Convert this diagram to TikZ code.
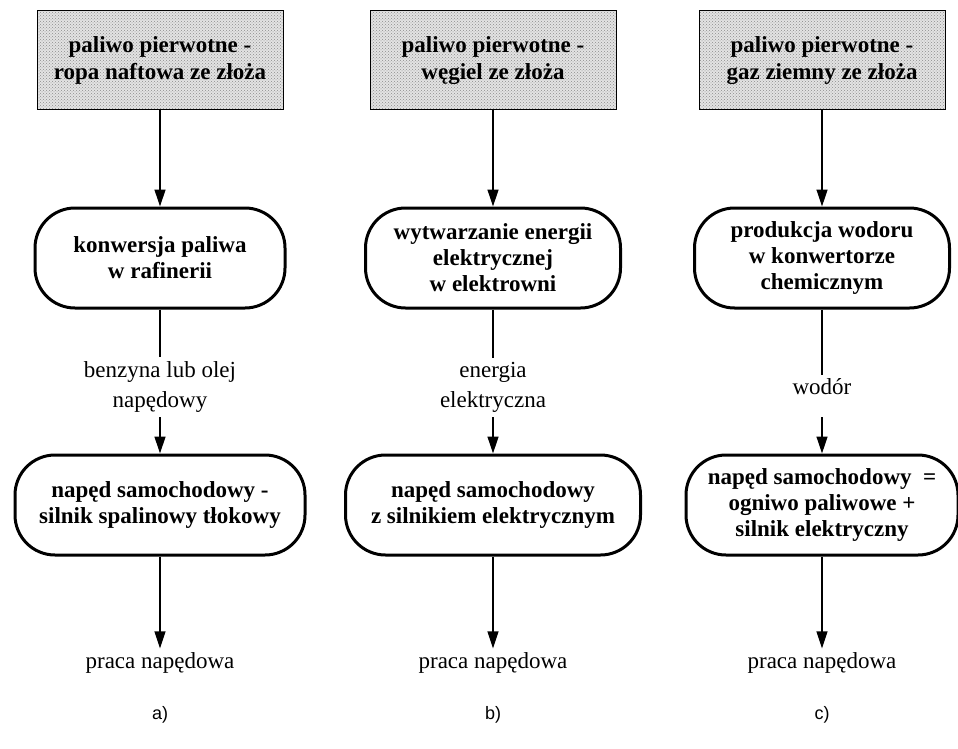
\documentclass[tikz,border=0pt]{standalone}
\usepackage{fontspec}
\setmainfont{Liberation Serif}
\newfontfamily\sansf{Liberation Sans}
\usetikzlibrary{arrows.meta,patterns}
\begin{document}
\begin{tikzpicture}[x=1pt,y=-1pt,
  topbox/.style={draw, line width=1pt, preaction={fill=gray!22}, pattern=crosshatch dots, pattern color=gray!90, minimum width=246pt, minimum height=99pt, align=center, font=\bfseries\fontsize{23}{27}\selectfont, inner sep=0pt},
  rbox/.style={draw, line width=3pt, rounded corners=40pt, minimum height=100pt, align=center, font=\bfseries\fontsize{23}{26}\selectfont, inner sep=0pt},
  lbl/.style={align=center, font=\fontsize{23}{30}\selectfont, inner sep=4pt},
  capt/.style={font=\sansf\fontsize{18}{20}\selectfont, inner sep=0pt},
  arr/.style={line width=1.3pt, -{Triangle[length=17pt,width=11pt]}},
  ln/.style={line width=1.3pt}]
\useasboundingbox (0,0) rectangle (958,749);
% column a
\node[topbox] (tA) at (160,60.5) {paliwo pierwotne -\\ropa naftowa ze złoża};
\node[rbox, minimum width=250pt] (r1A) at (160,258) {konwersja paliwa\\w rafinerii};
\node[lbl] (lA) at (160,387) {benzyna lub olej\\napędowy};
\coordinate (sA) at (160,417);
\node[rbox, minimum width=290pt] (r2A) at (160,505) {napęd samochodowy -\\silnik spalinowy tłokowy};
\node[lbl] (pA) at (160,663) {praca napędowa};
\node[capt] (cA) at (160,715) {a)};
% column b
\node[topbox] (tB) at (493,60.5) {paliwo pierwotne -\\węgiel ze złoża};
\node[rbox, minimum width=255pt] (r1B) at (493,258) {wytwarzanie energii\\elektrycznej\\w elektrowni};
\node[lbl] (lB) at (493,387) {energia\\elektryczna};
\coordinate (sB) at (493,417);
\node[rbox, minimum width=295pt] (r2B) at (493,505) {napęd samochodowy\\z silnikiem elektrycznym};
\node[lbl] (pB) at (493,663) {praca napędowa};
\node[capt] (cB) at (493,715) {b)};
% column c
\node[topbox] (tC) at (822,60.5) {paliwo pierwotne -\\gaz ziemny ze złoża};
\node[rbox, minimum width=255pt] (r1C) at (822,258) {produkcja wodoru\\w konwertorze\\chemicznym};
\node[lbl] (lC) at (822,387) {wodór};
\coordinate (sC) at (822,417);
\node[rbox, minimum width=272pt] (r2C) at (822,505) {napęd samochodowy\ \ =\\ogniwo paliwowe +\\silnik elektryczny};
\node[lbl] (pC) at (822,663) {praca napędowa};
\node[capt] (cC) at (822,715) {c)};
% connectors
\foreach \c in {A,B,C}{
  \draw[arr] (t\c) -- (r1\c);
  \draw[ln] (r1\c) -- (l\c);
  \draw[arr] (s\c) -- (r2\c);
  \draw[arr] (r2\c) -- (p\c);
}
\end{tikzpicture}
\end{document}
